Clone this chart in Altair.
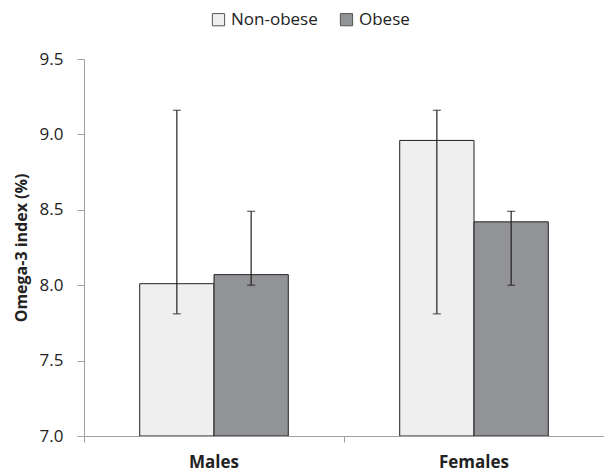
import altair as alt
import pandas as pd

groups = ["Males", "Males", "Females", "Females"]
series = ["Non-obese", "Obese", "Non-obese", "Obese"]
means = [8.01, 8.07, 8.96, 8.42]
err_low = [7.81, 8.00, 7.81, 8.00]
err_high = [9.16, 8.49, 9.16, 8.49]

df = pd.DataFrame({"group": groups, "series": series, "mean": means,
                   "lo": err_low, "hi": err_high})

FONT = "Open Sans"
x_enc = alt.X("group:N", sort=["Males", "Females"],
              scale=alt.Scale(paddingInner=0, paddingOuter=0),
              axis=alt.Axis(title=None, labelFont=FONT, labelFontSize=17, labelFontWeight="bold",
                            labelColor="#222", domainColor="#a0a0a0", tickColor="#a0a0a0",
                            tickSize=6, bandPosition=0, labelPadding=12, labelAngle=0))
xoff = alt.XOffset("series:N", sort=["Non-obese", "Obese"],
                   scale=alt.Scale(paddingInner=0, paddingOuter=0.75))

bars = alt.Chart(df).mark_bar(stroke="#231f20", strokeWidth=1, clip=True).encode(
    x=x_enc,
    xOffset=xoff,
    y=alt.Y("mean:Q", scale=alt.Scale(domain=[7.0, 9.5], zero=False, nice=False),
            axis=alt.Axis(title="Omega-3 index (%)", values=[7.0, 7.5, 8.0, 8.5, 9.0, 9.5],
                          format=".1f", grid=False, labelFont=FONT, labelFontSize=17,
                          labelColor="#222", titleFont=FONT, titleFontSize=16,
                          titleFontWeight="bold", titleColor="#222", domainColor="#a0a0a0",
                          tickColor="#a0a0a0", tickSize=7, labelPadding=14, titlePadding=10)),
    y2=alt.datum(7.0),
    fill=alt.Fill("series:N", sort=["Non-obese", "Obese"],
                  scale=alt.Scale(domain=["Non-obese", "Obese"], range=["#efefef", "#929396"]),
                  legend=alt.Legend(title=None, orient="none", direction="horizontal",
                                    legendX=126, legendY=-48, symbolType="square",
                                    symbolSize=150, symbolStrokeColor="#555",
                                    symbolStrokeWidth=1, labelFont=FONT, labelFontSize=17,
                                    labelColor="#222", columnPadding=20, labelOffset=4,
                                    labelLimit=200)),
)

rules = alt.Chart(df).mark_rule(color="#231f20", strokeWidth=1.2).encode(
    x=x_enc, xOffset=xoff, y="lo:Q", y2="hi:Q")

cap_hi = alt.Chart(df).mark_tick(color="#231f20", thickness=1.2, size=8, orient="horizontal").encode(
    x=x_enc, xOffset=xoff, y="hi:Q")
cap_lo = alt.Chart(df).mark_tick(color="#231f20", thickness=1.2, size=8, orient="horizontal").encode(
    x=x_enc, xOffset=xoff, y="lo:Q")

chart = alt.layer(bars, rules, cap_hi, cap_lo).properties(
    width=520, height=377,
    autosize=alt.AutoSizeParams(type="none"),
    padding={"left": 76, "top": 51, "right": 0, "bottom": 38},
).configure_view(stroke=None)

chart.save("out.html", embed_options={"renderer": "svg", "actions": False})
